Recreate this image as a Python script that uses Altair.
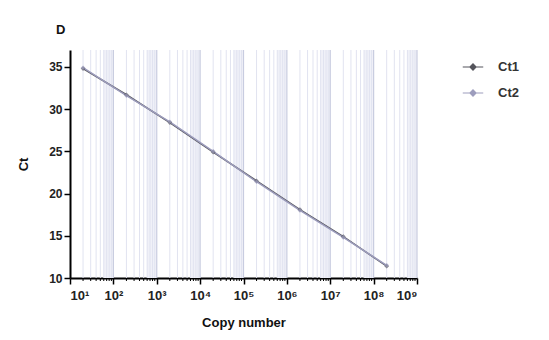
import altair as alt
import pandas as pd

copies = [2e1, 2e2, 2e3, 2e4, 2e5, 2e6, 2e7, 2e8]
ct1 = [34.8, 31.7, 28.4, 24.9, 21.5, 18.1, 14.9, 11.4]
ct2 = [34.9, 31.6, 28.5, 25.0, 21.4, 18.0, 14.8, 11.5]
series = ["Ct1", "Ct2"]
decades = [1e1, 1e2, 1e3, 1e4, 1e5, 1e6, 1e7, 1e8, 1e9]
minor = [m * d for d in decades[:-1] for m in range(2, 10)]
band_start = [6 * d for d in decades[:-1]]
band_end = decades[1:]
y_ticks = [10, 15, 20, 25, 30, 35]

df = pd.DataFrame({
    "copies": copies * 2,
    "ct": ct1 + ct2,
    "series": ["Ct1"] * len(copies) + ["Ct2"] * len(copies),
})
minor_df = pd.DataFrame({"g": minor})
major_df = pd.DataFrame({"g": decades[1:]})
band_df = pd.DataFrame({"a": band_start, "b": band_end})

W, H = 347, 228
xscale = alt.Scale(type="log", domain=[1e1, 1e9], nice=False)
yscale = alt.Scale(domain=[10, 37], nice=False, zero=False)
color = alt.Scale(domain=series, range=["#55555c", "#9d9dbd"])

sup = "['⁰','¹','²','³','⁴','⁵','⁶','⁷','⁸','⁹'][round(log(datum.value)/LN10)]"

bands = alt.Chart(band_df).mark_rect(color="#f0f1f8").encode(
    x=alt.X("a:Q", scale=xscale), x2="b:Q",
    y=alt.value(0), y2=alt.value(H),
)

grid = alt.Chart(minor_df).mark_rule(color="#e1e3f0", strokeWidth=1).encode(
    x=alt.X("g:Q", scale=xscale),
    y=alt.value(0), y2=alt.value(H),
)

major_grid = alt.Chart(major_df).mark_rule(color="#c8cce0", strokeWidth=1.2).encode(
    x=alt.X("g:Q", scale=xscale),
    y=alt.value(0), y2=alt.value(H),
)

minor_ticks = alt.Chart(minor_df).mark_rule(color="black", strokeWidth=1).encode(
    x=alt.X("g:Q", scale=xscale),
    y=alt.value(H), y2=alt.value(H + 3),
)

line = alt.Chart(df).mark_line(strokeWidth=1.5).encode(
    x=alt.X("copies:Q", scale=xscale,
            axis=alt.Axis(values=decades, labelExpr="'10' + " + sup,
                          title="Copy number", grid=False)),
    y=alt.Y("ct:Q", scale=yscale,
            axis=alt.Axis(values=y_ticks, title="Ct", grid=False)),
    color=alt.Color("series:N", scale=color,
                    legend=alt.Legend(title=None, orient="none", legendX=392, legendY=6,
                                      symbolType="M-1,0H1M-0.3,0L0,-0.3L0.3,0L0,0.3Z",
                                      symbolSize=420, symbolStrokeWidth=1.2,
                                      labelFontSize=13, labelFont="Liberation Sans",
                                      labelFontWeight="bold", labelColor="#333",
                                      rowPadding=8, labelOffset=14)),
    detail="series:N",
)

pts = alt.Chart(df).mark_point(shape="diamond", filled=True, size=22).encode(
    x=alt.X("copies:Q", scale=xscale),
    y=alt.Y("ct:Q", scale=yscale),
    color=alt.Color("series:N", scale=color, legend=None),
)

chart = alt.layer(bands, grid, major_grid, minor_ticks, line, pts).properties(
    width=W, height=H,
    autosize=alt.AutoSizeParams(type="none"),
    padding={"left": 62, "top": 42, "right": 110, "bottom": 54},
    title=alt.Title("D", anchor="start", frame="group", dx=-14, offset=12, fontSize=13,
                    font="Liberation Sans", fontWeight="bold", color="#111"),
).configure_view(stroke=None).configure_axis(
    domainColor="black", domainWidth=2, tickColor="black", tickWidth=1.5, tickSize=6,
    labelFont="Liberation Sans", labelFontSize=12, labelFontWeight="bold", labelColor="#222",
    titleFont="Liberation Sans", titleFontSize=13, titleFontWeight="bold", titleColor="#111",
).configure_axisX(labelPadding=5, labelFontSize=13, titlePadding=14).configure_axisY(titlePadding=18)

chart.save("out.html", embed_options={"renderer": "svg", "actions": False})
